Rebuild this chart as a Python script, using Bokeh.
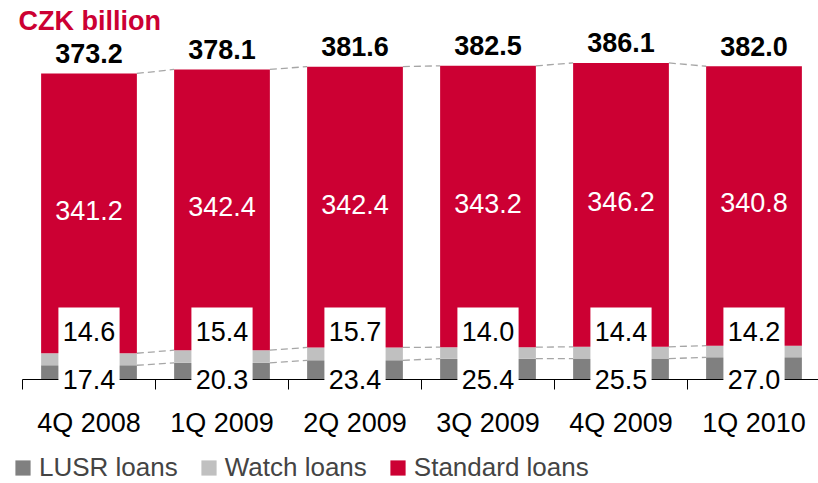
from bokeh.plotting import figure
from bokeh.models import ColumnDataSource, Range1d, FixedTicker
from bokeh.core.properties import value
from bokeh.embed import file_html
from bokeh.resources import INLINE

# ---- data ----
categories = ["4Q 2008", "1Q 2009", "2Q 2009", "3Q 2009", "4Q 2009", "1Q 2010"]
lusr = [17.4, 20.3, 23.4, 25.4, 25.5, 27.0]
watch = [14.6, 15.4, 15.7, 14.0, 14.4, 14.2]
standard = [341.2, 342.4, 342.4, 343.2, 346.2, 340.8]
totals = [373.2, 378.1, 381.6, 382.5, 386.1, 382.0]
series_names = ["LUSR loans", "Watch loans", "Standard loans"]
unit_title = "CZK billion"

# ---- style / layout ----
RED, DGREY, LGREY = "#CC0033", "#808080", "#C0C0C0"
FONT = "Liberation Sans"
W, H = 818, 483
BASE_PX = 379            # baseline position from top
PX = 0.82                # pixels per CZK bn
CAT_W = 133.0            # pixels per category
LEFT_PX = 22             # baseline start from left
BW = 0.72

n = len(categories)
xs = [i + 0.5 for i in range(n)]
cum_l = lusr
cum_w = [a + b for a, b in zip(lusr, watch)]

src = ColumnDataSource(dict(
    x=xs, lusr=lusr, watch=watch, standard=standard, totals=totals,
    tot_lab=[t + 20 / PX for t in totals],
    std_mid=[a + b / 2 + 3 / PX for a, b in zip(cum_w, standard)],
    t_tot=[f"{v:.1f}" for v in totals],
    t_std=[f"{v:.1f}" for v in standard],
    t_w=[f"{v:.1f}" for v in watch],
    t_l=[f"{v:.1f}" for v in lusr],
))

p = figure(width=W, height=H, output_backend="svg", toolbar_location=None,
           x_range=Range1d(-LEFT_PX / CAT_W, (W - LEFT_PX) / CAT_W),
           y_range=Range1d(-(H - BASE_PX) / PX, BASE_PX / PX),
           min_border=0, min_border_left=0, min_border_right=0,
           min_border_top=0, min_border_bottom=0)
p.outline_line_color = None
p.grid.visible = False
p.yaxis.visible = False

# dashed connectors between bars
for lev in (cum_l, cum_w, totals):
    p.segment(x0=[xs[i] + BW / 2 for i in range(n - 1)], y0=lev[:-1],
              x1=[xs[i + 1] - BW / 2 for i in range(n - 1)], y1=lev[1:],
              line_color="#A6A6A6", line_width=1.3, line_dash="7 4")

# stacked bars
p.vbar_stack(["lusr", "watch", "standard"], x="x", width=BW, source=src,
             color=[DGREY, LGREY, RED], line_color=None,
             legend_label=series_names)

# baseline and category boundary ticks
p.segment(x0=[0], y0=[0], x1=[n], y1=[0], line_color="black", line_width=1)
p.segment(x0=list(range(n + 1)), y0=[0] * (n + 1), x1=list(range(n + 1)),
          y1=[-10 / PX] * (n + 1), line_color="black", line_width=1)

# white label boxes
p.quad(left=[x - 0.23 for x in xs], right=[x + 0.23 for x in xs],
       bottom=[-15 / PX] * n, top=[72 / PX] * n,
       fill_color="white", line_color=None)

# labels
p.text(x="x", y="tot_lab", text="t_tot", source=src, text_align="center",
       text_baseline="middle", text_font=value(FONT),
       text_font_style="bold", text_font_size="27px", text_color="black")
p.text(x="x", y="std_mid", text="t_std", source=src, text_align="center",
       text_baseline="middle", text_font=value(FONT),
       text_font_size="27px", text_color="white")
p.text(x="x", y=48 / PX, text="t_w", source=src, text_align="center",
       text_baseline="middle", text_font=value(FONT),
       text_font_size="27px", text_color="black")
p.text(x="x", y=0, text="t_l", source=src, text_align="center",
       text_baseline="middle", text_font=value(FONT),
       text_font_size="27px", text_color="black")

# unit title
p.text(x=[(18 - LEFT_PX) / CAT_W], y=[(BASE_PX - 20) / PX], text=[unit_title],
       text_align="left", text_baseline="middle", text_font=value(FONT),
       text_font_style="bold", text_font_size="27px", text_color=RED)

# x axis (category labels), placed at the baseline inside the frame
ax = p.xaxis[0]
ax.fixed_location = 0
ax.ticker = FixedTicker(ticks=xs)
ax.major_label_overrides = {x: c for x, c in zip(xs, categories)}
ax.axis_line_color = None
ax.major_tick_line_color = None
ax.minor_tick_line_color = None
ax.major_tick_out = 0
ax.major_tick_in = 0
ax.major_label_standoff = 28
ax.major_label_text_font = FONT
ax.major_label_text_font_size = "27px"
ax.major_label_text_color = "black"

# legend
lg = p.legend[0]
lg.orientation = "horizontal"
lg.location = (13, 0)
lg.padding = 0
lg.margin = 0
lg.spacing = 21
lg.glyph_width = 19
lg.glyph_height = 19
lg.label_standoff = 7
lg.label_text_font = FONT
lg.label_text_font_size = "26px"
lg.border_line_color = None
lg.background_fill_alpha = 0

open("out.html", "w").write(file_html(p, INLINE))
